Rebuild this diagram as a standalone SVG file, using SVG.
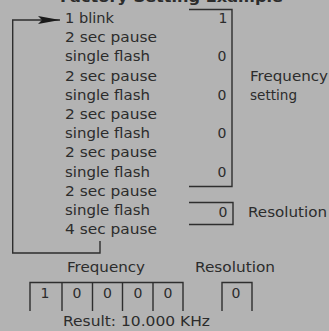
<svg xmlns="http://www.w3.org/2000/svg" width="329" height="331" viewBox="0 0 329 331">
<style>
text{font-family:"DejaVu Sans","Liberation Sans",sans-serif;font-size:14px;fill:#2c2c2c}
.t{font-weight:bold}
.n{text-anchor:middle}
.ln{fill:none;stroke:#2e2e2e;stroke-width:1.4}
</style>
<defs>
<marker id="ah" markerWidth="22" markerHeight="8" refX="22" refY="4" orient="auto" markerUnits="userSpaceOnUse" viewBox="0 0 22 8">
<path d="M0,0 L22,4 L0,8 L4,4 Z" fill="#1a1a1a"/>
</marker>
</defs>
<rect width="329" height="331" fill="#b3b3b3"/>
<g id="title"><text class="t" x="60" y="2" textLength="223" lengthAdjust="spacingAndGlyphs">Factory Setting Example</text></g>
<g id="sequence">
<text x="65" y="23" textLength="49" lengthAdjust="spacingAndGlyphs">1 blink</text>
<text x="65" y="42.2" textLength="92" lengthAdjust="spacingAndGlyphs">2 sec pause</text>
<text x="65" y="61.4" textLength="85" lengthAdjust="spacingAndGlyphs">single flash</text>
<text x="65" y="80.6" textLength="92" lengthAdjust="spacingAndGlyphs">2 sec pause</text>
<text x="65" y="99.8" textLength="85" lengthAdjust="spacingAndGlyphs">single flash</text>
<text x="65" y="119" textLength="92" lengthAdjust="spacingAndGlyphs">2 sec pause</text>
<text x="65" y="138.2" textLength="85" lengthAdjust="spacingAndGlyphs">single flash</text>
<text x="65" y="157.4" textLength="92" lengthAdjust="spacingAndGlyphs">2 sec pause</text>
<text x="65" y="176.6" textLength="85" lengthAdjust="spacingAndGlyphs">single flash</text>
<text x="65" y="195.8" textLength="92" lengthAdjust="spacingAndGlyphs">2 sec pause</text>
<text x="65" y="215" textLength="85" lengthAdjust="spacingAndGlyphs">single flash</text>
<text x="65" y="234.2" textLength="92" lengthAdjust="spacingAndGlyphs">4 sec pause</text>
</g>
<g id="digits-right">
<text class="n" x="223" y="23">1</text>
<text class="n" x="222" y="61.4">0</text>
<text class="n" x="222" y="99.8">0</text>
<text class="n" x="222" y="138.2">0</text>
<text class="n" x="222" y="176.6">0</text>
<text class="n" x="223" y="217">0</text>
</g>
<g id="freq-bracket">
<path class="ln" d="M189,9.5 H232 V186.5 H189"/>
<text x="250" y="81" textLength="78" lengthAdjust="spacingAndGlyphs">Frequency</text>
<text x="250" y="100" textLength="47" lengthAdjust="spacingAndGlyphs">setting</text>
</g>
<g id="res-bracket">
<path class="ln" d="M189,202.5 H233 V224.5 H189"/>
<text x="248" y="217" textLength="79" lengthAdjust="spacingAndGlyphs">Resolution</text>
</g>
<g id="connectors">
<path class="ln" d="M100,241 V253 H12.7 V20 H60" marker-end="url(#ah)"/>
</g>
<g id="freq-boxes">
<text x="67" y="272" textLength="78" lengthAdjust="spacingAndGlyphs">Frequency</text>
<path class="ln" d="M30,311 V282.5 H183 V311 M62,282.5 V311 M92.5,282.5 V311 M122.5,282.5 V311 M153,282.5 V311"/>
<text class="n" x="45" y="298">1</text>
<text class="n" x="77" y="298">0</text>
<text class="n" x="107.5" y="298">0</text>
<text class="n" x="138" y="298">0</text>
<text class="n" x="168" y="298">0</text>
</g>
<g id="res-box">
<text x="195" y="272" textLength="80" lengthAdjust="spacingAndGlyphs">Resolution</text>
<path class="ln" d="M222,311 V282.5 H252 V311"/>
<text class="n" x="236" y="298">0</text>
</g>
<g id="result"><text x="63" y="326" textLength="147" lengthAdjust="spacingAndGlyphs">Result: 10.000 KHz</text></g>
</svg>
